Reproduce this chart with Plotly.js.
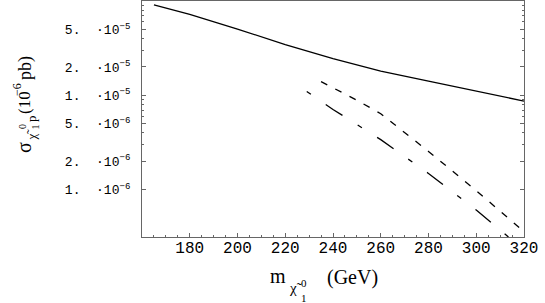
<!DOCTYPE html>
<html>
<head>
<meta charset="utf-8">
<script src="https://cdn.plot.ly/plotly-3.0.1.min.js"></script>
<style>html,body{margin:0;padding:0;background:#fff;}#chart{width:545px;height:303px;}</style>
</head>
<body>
<div id="chart"></div>
<script>
// ---- data ----
const massSolid = [165, 180, 200, 220, 240, 260, 280, 300, 320];
const sigmaSolid = [9.1e-5, 7.2e-5, 5.05e-5, 3.45e-5, 2.45e-5, 1.81e-5, 1.42e-5, 1.12e-5, 8.7e-6];
const massDashed = [235, 240, 250, 260, 280, 300, 320];
const sigmaDashed = [1.40e-5, 1.20e-5, 8.9e-6, 6.4e-6, 2.55e-6, 9.8e-7, 3.6e-7];
const massDashDot = [229, 240, 260, 280, 300, 320];
const sigmaDashDot = [1.10e-5, 7.1e-6, 3.4e-6, 1.49e-6, 6.1e-7, 2.3e-7];

const yTickVals = [1e-6, 2e-6, 5e-6, 1e-5, 2e-5, 5e-5];
const yTickText = ['1.\u00a0\u00a0·10<sup>−6</sup>', '2.\u00a0\u00a0·10<sup>−6</sup>', '5.\u00a0\u00a0·10<sup>−6</sup>',
                   '1.\u00a0\u00a0·10<sup>−5</sup>', '2.\u00a0\u00a0·10<sup>−5</sup>', '5.\u00a0\u00a0·10<sup>−5</sup>'];
const yMinorVals = [3e-6, 4e-6, 6e-6, 7e-6, 8e-6, 9e-6, 3e-5, 4e-5, 6e-5, 7e-5, 8e-5, 9e-5];
const xTickVals = [180, 200, 220, 240, 260, 280, 300, 320];

// ---- layout helpers ----
const L = 142, R = 21, T = 1, B = 66, W = 545, H = 303;
const pw = W - L - R, ph = H - T - B;
const px2x = p => (p - L) / pw;
const py2y = p => (H - B - p) / ph;
const serif = 'Liberation Serif, Times New Roman, serif';
function ann(text, px, py, size, angle) {
  return {text: text, xref: 'paper', yref: 'paper', x: px2x(px), y: py2y(py),
          xanchor: 'center', yanchor: 'middle', showarrow: false, textangle: angle || 0,
          font: {family: serif, size: size, color: '#000'}};
}

const lineStyle = (dash) => ({color: '#000', width: 1.3, dash: dash});
const traces = [
  {x: massSolid, y: sigmaSolid, mode: 'lines', line: lineStyle('solid'), hoverinfo: 'skip'},
  {x: massDashed, y: sigmaDashed, mode: 'lines', line: lineStyle('7px,9px'), hoverinfo: 'skip'},
  {x: massDashDot, y: sigmaDashDot, mode: 'lines', line: lineStyle('5px,18px,20px,18px'), hoverinfo: 'skip'}
];

const frame = '#666';
const layout = {
  width: W, height: H,
  margin: {l: L, r: R, t: T, b: B, pad: 0},
  paper_bgcolor: '#fff', plot_bgcolor: '#fff',
  showlegend: false,
  xaxis: {
    range: [160, 320], showgrid: false, zeroline: false,
    showline: true, linecolor: frame, linewidth: 1, mirror: true,
    ticks: 'inside', ticklen: 4, tickcolor: frame, tickwidth: 1,
    tickmode: 'array', tickvals: xTickVals,
    minor: {dtick: 5, tick0: 160, ticks: 'inside', ticklen: 2, tickcolor: frame, showgrid: false},
    tickfont: {family: 'Liberation Mono, Courier New, monospace', size: 16, color: '#000'},
    ticklabelstandoff: -4
  },
  yaxis: {
    type: 'log', range: [-6.5, -4], showgrid: false, zeroline: false,
    showline: true, linecolor: frame, linewidth: 1, mirror: 'ticks',
    ticks: 'inside', ticklen: 4, tickcolor: frame, tickwidth: 1,
    tickmode: 'array', tickvals: yTickVals, ticktext: yTickText,
    minor: {tickmode: 'array', tickvals: yMinorVals, ticks: 'inside', ticklen: 2, tickcolor: frame, showgrid: false},
    tickfont: {family: 'Liberation Mono, Courier New, monospace', size: 13, color: '#000'},
    ticklabelstandoff: 8
  },
  annotations: [
    // x-axis title pieces
    ann('m', 277.5, 276, 20),
    ann('χ̃', 295, 288, 15),
    ann('0', 303.5, 283, 11),
    ann('1', 303.5, 298, 11),
    ann('(GeV)', 352.5, 277, 20),
    // y-axis title pieces (rotated)
    ann('σ', 24, 148, 20, -90),
    ann('χ̃', 31, 134.5, 13, -90),
    ann('0', 22.5, 126.5, 10, -90),
    ann('1', 35, 127.5, 10, -90),
    ann('p', 31, 119, 13, -90),
    ann('(10', 25, 103, 17, -90),
    ann('−6', 16.5, 89.5, 12, -90),
    ann('pb)', 25, 68, 18, -90)
  ]
};

Plotly.newPlot('chart', traces, layout, {staticPlot: true, displayModeBar: false});
</script>
</body>
</html>
